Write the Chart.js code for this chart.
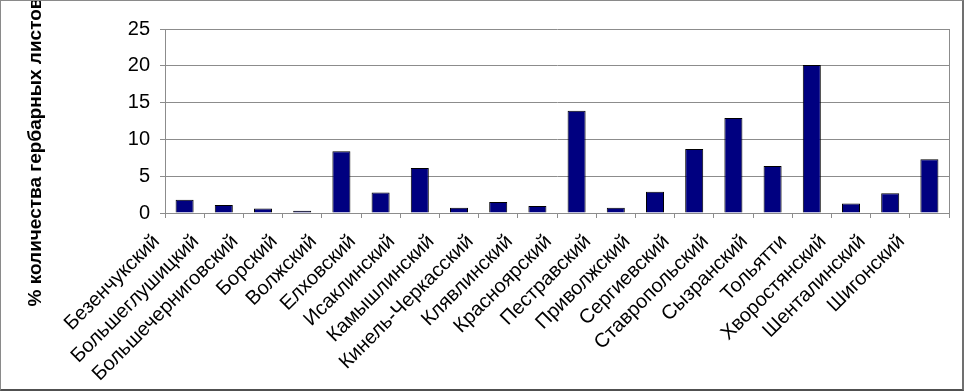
<!DOCTYPE html>
<html>
<head>
<meta charset="utf-8">
<script src="https://cdn.jsdelivr.net/npm/chart.js@4/dist/chart.umd.min.js"></script>
<style>
  html, body { margin: 0; padding: 0; background: #fff; }
  #wrap { position: relative; width: 964px; height: 391px; }
  #frame {
    position: absolute; left: 0; top: 0; right: 0; bottom: 0;
    border: 1px solid #8a8a8a; border-right: 2px solid #707070; border-bottom: 2px solid #505050;
    pointer-events: none;
  }
</style>
</head>
<body>
<div id="wrap">
  <canvas id="chart" width="964" height="391"></canvas>
  <div id="frame"></div>
</div>
<script>
// ── DATA ────────────────────────────────────────────────────

const districts = [
  'Безенчукский', 'Большеглушицкий', 'Большечерниговский', 'Борский', 'Волжский',
  'Елховский', 'Исаклинский', 'Камышлинский', 'Кинель-Черкасский', 'Клявлинский',
  'Красноярский', 'Пестравский', 'Приволжский', 'Сергиевский', 'Ставропольский',
  'Сызранский', 'Тольятти', 'Хворостянский', 'Шенталинский', 'Шигонский'
];

const sheetShare = [
  1.8, 1.1, 0.6, 0.3, 8.4,
  2.8, 6.1, 0.7, 1.5, 0.95,
  13.9, 0.7, 2.9, 8.7, 12.9,
  6.4, 20.1, 1.3, 2.7, 7.3
];

const yTicks = [0, 5, 10, 15, 20, 25];
const yTitle = '% количества гербарных листов';


// ── Y TITLE (drawn off-centre like the original) ───────────

const yTitlePlugin = {
  id: 'yTitle',
  afterDraw(chart) {
    const c = chart.ctx;
    c.save();
    c.translate(36, 152);
    c.rotate(-Math.PI / 2);
    c.font = 'bold 19px "Liberation Sans", Arial, sans-serif';
    c.fillStyle = '#000';
    c.textAlign = 'center';
    c.textBaseline = 'middle';
    c.fillText(yTitle, 0, 0);
    c.restore();
  }
};

const gray = '#8c8c8c';

new Chart(document.getElementById('chart').getContext('2d'), {
  type: 'bar',
  data: {
    labels: districts,
    datasets: [{
      data: sheetShare,
      backgroundColor: '#000080',
      borderColor: '#000',
      borderWidth: 1,
      barPercentage: 0.46,
      categoryPercentage: 1
    }]
  },
  options: {
    responsive: false,
    animation: false,
    layout: { padding: { top: 29, right: 15, bottom: 0, left: 0 } },
    plugins: {
      legend: { display: false },
      tooltip: { enabled: false }
    },
    scales: {
      x: {
        afterFit: s => { s.height = 178; },
        grid: {
          offset: true,
          color: ctx => ctx.type === 'tick' ? 'transparent' : gray,
          tickColor: gray,
          tickLength: 5
        },
        border: { color: gray },
        ticks: {
          autoSkip: false,
          minRotation: 45,
          maxRotation: 45,
          labelOffset: -28,
          padding: 12,
          color: '#000',
          font: { family: '"Liberation Sans", Arial, sans-serif', size: 20 }
        }
      },
      y: {
        min: 0,
        max: 25,
        afterFit: s => { s.width = 165; },
        afterBuildTicks: s => { s.ticks = yTicks.map(v => ({ value: v })); },
        grid: { color: gray, tickColor: gray, tickLength: 5 },
        border: { color: gray },
        ticks: {
          padding: 10,
          color: '#000',
          font: { family: '"Liberation Sans", Arial, sans-serif', size: 20 }
        }
      }
    }
  },
  plugins: [yTitlePlugin]
});
</script>
</body>
</html>
